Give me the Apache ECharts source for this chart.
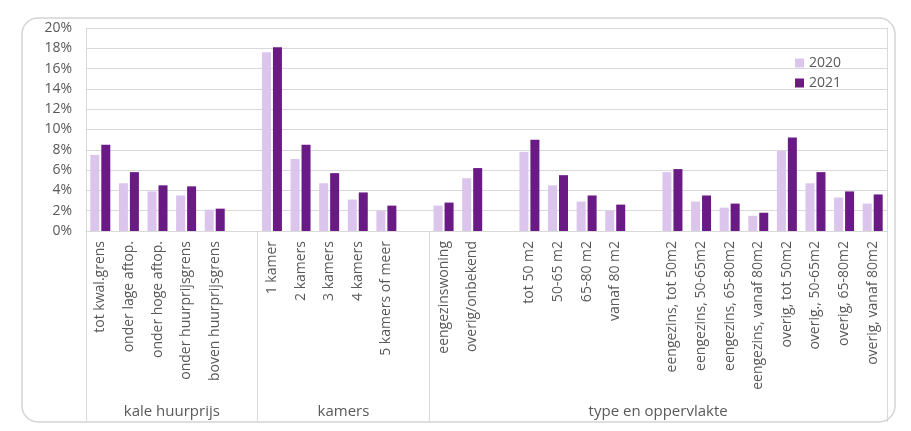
<!DOCTYPE html>
<html>
<head>
<meta charset="utf-8">
<title>huurwoningen</title>
<script src="https://cdn.jsdelivr.net/npm/echarts@6/dist/echarts.min.js"></script>
<style>
  html, body { margin: 0; padding: 0; background: #fff; }
  #main { width: 911px; height: 431px; }
</style>
</head>
<body>
<div id="main"></div>
<script>
// categorieen, lege strings zijn de witruimte tussen de groepen
let categories = [
  'tot kwal.grens', 'onder lage aftop.', 'onder hoge aftop.', 'onder huurprijsgrens', 'boven huurprijsgrens', '',
  '1 kamer', '2 kamers', '3 kamers', '4 kamers', '5 kamers of meer', '',
  'eengezinswoning', 'overig/onbekend', '',
  'tot 50 m2', '50-65 m2', '65-80 m2', 'vanaf 80 m2', '',
  'eengezins, tot 50m2', 'eengezins, 50-65m2', 'eengezins, 65-80m2', 'eengezins, vanaf 80m2',
  'overig, tot 50m2', 'overig., 50-65m2', 'overig, 65-80m2', 'overig, vanaf 80m2'
]

// percentages per jaar
let values2020 = [
  7.5, 4.7, 3.9, 3.5, 2.1, null,
  17.6, 7.1, 4.7, 3.1, 2.0, null,
  2.5, 5.2, null,
  7.8, 4.5, 2.9, 2.0, null,
  5.8, 2.9, 2.3, 1.5,
  7.9, 4.7, 3.3, 2.7
]
let values2021 = [
  8.5, 5.8, 4.5, 4.4, 2.2, null,
  18.1, 8.5, 5.7, 3.8, 2.5, null,
  2.8, 6.2, null,
  9.0, 5.5, 3.5, 2.6, null,
  6.1, 3.5, 2.7, 1.8,
  9.2, 5.8, 3.9, 3.6
]

// groepen: naam, begin- en eindslot op de categorie-as
let groupNames = ['kale huurprijs', 'kamers', 'type en oppervlakte']
let groupBounds = [0, 6, 12, 28]

let textColor = '#595959',
  gridColor = '#d9d9d9',
  font = 'Open Sans'

let groupCenters = groupNames.map((n, i) => (groupBounds[i] + groupBounds[i + 1]) / 2)

let chart = echarts.init(document.getElementById('main'))

chart.setOption({
  animation: false,
  textStyle: { fontFamily: font },
  graphic: [
    {
      type: 'rect',
      shape: { x: 22, y: 18, width: 873, height: 404, r: 16 },
      style: { fill: 'none', stroke: '#d4d4d4', lineWidth: 1.5 },
      z: -1,
    },
  ],
  legend: {
    orient: 'vertical',
    left: 790,
    top: 51,
    itemWidth: 9,
    itemHeight: 9,
    itemGap: 6,
    icon: 'rect',
    textStyle: { color: textColor, fontSize: 14, fontFamily: font },
    data: ['2020', '2021'],
  },
  grid: { left: 86, right: 24, top: 28, bottom: 200 },
  xAxis: [
    {
      type: 'category',
      data: categories,
      axisLine: { lineStyle: { color: gridColor } },
      axisTick: { show: false },
      axisLabel: {
        rotate: 90,
        interval: 0,
        margin: 10,
        color: textColor,
        fontSize: 14,
        fontFamily: font,
      },
    },
    {
      // hulp-as voor groepsscheidingen en groepsnamen
      type: 'value',
      min: 0,
      max: 28,
      position: 'bottom',
      axisLine: { show: false },
      splitLine: { show: false },
      axisTick: {
        show: true,
        customValues: groupBounds,
        length: 191,
        lineStyle: { color: gridColor },
      },
      axisLabel: {
        customValues: groupCenters,
        margin: 173,
        color: textColor,
        fontSize: 15,
        fontFamily: font,
        formatter: (v) => groupNames[groupCenters.indexOf(v)] || '',
      },
    },
  ],
  yAxis: [
    {
      type: 'value',
      min: 0,
      max: 20,
      interval: 2,
      axisLine: { show: true, lineStyle: { color: gridColor } },
      axisTick: { show: false },
      splitLine: { lineStyle: { color: gridColor } },
      axisLabel: {
        formatter: '{value}%',
        margin: 14,
        color: textColor,
        fontSize: 14,
        fontFamily: font,
      },
    },
    {
      // rechterrand van het plotvlak
      type: 'value',
      min: 0,
      max: 20,
      interval: 2,
      position: 'right',
      axisLine: { show: true, lineStyle: { color: gridColor } },
      axisTick: { show: false },
      axisLabel: { show: false },
      splitLine: { show: false },
    },
  ],
  series: [
    {
      name: '2020',
      type: 'bar',
      data: values2020,
      barWidth: 9,
      barGap: '22%',
      itemStyle: { color: '#dcc5ec' },
    },
    {
      name: '2021',
      type: 'bar',
      data: values2021,
      barWidth: 9,
      itemStyle: { color: '#6a1a84' },
    },
  ],
})
</script>
</body>
</html>
